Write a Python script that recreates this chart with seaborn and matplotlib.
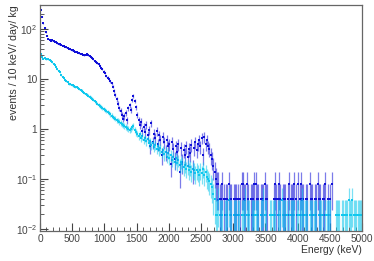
import numpy as np
import pandas as pd
import matplotlib
matplotlib.use("Agg")
import matplotlib.pyplot as plt
import seaborn as sns

# --- data: events / 10 keV / day / kg, 20 keV wide bins starting at 0 keV ---
bin_width = 20.0

# blue spectrum, continuous part (0 - 2760 keV)
blue_rate = [
    240, 175, 130, 105, 85, 72, 64, 61, 58, 59,
    56, 55, 54, 52, 50, 49, 48, 46, 45, 44,
    43, 42, 40, 39, 38, 37, 36.5, 35, 34.5, 33.5,
    33, 32, 31, 30.5, 30, 30.5, 31.5, 30, 28, 27,
    26, 24.5, 23, 22, 20.5, 19.5, 18, 16.5, 15.5, 14,
    13, 11.5, 10.5, 9.8, 9.0, 8.2, 7.0, 5.8, 4.8, 3.9,
    3.2, 2.6, 2.3, 1.9, 1.6, 1.8, 2.1, 1.5, 2.6, 3.0,
    2.4, 3.8, 4.6, 3.6, 2.7, 1.9, 1.5, 1.2, 1.4, 0.9,
    1.1, 0.85, 1.2, 0.75, 0.95, 0.45, 1.3, 0.55, 0.8, 0.65,
    0.9, 0.5, 0.75, 0.6, 0.3, 0.7, 0.55, 0.35, 0.6, 0.45,
    0.5, 0.2, 0.55, 0.4, 0.25, 0.45, 0.35, 0.5, 0.14, 0.42,
    0.22, 0.38, 0.3, 0.45, 0.28, 0.4, 0.33, 0.48, 0.16, 0.42,
    0.55, 0.38, 0.5, 0.6, 0.45, 0.65, 0.3, 0.7, 0.5, 0.6,
    0.45, 0.4, 0.3, 0.25, 0.18, 0.14, 0.1, 0.08,
]
# blue spectrum, sparse tail (2760 - 5000 keV), single-event levels
blue_tail = [
    2, 1, 1, 2, 1, 0, 1, 1, 2, 1, 1, 0, 1, 1, 1, 1, 0, 1, 2, 2,
    1, 1, 2, 1, 0, 1, 1, 1, 2, 2, 1, 1, 0, 1, 1, 1, 2, 1, 1, 0,
    0, 0, 0, 1, 2, 1, 1, 2, 1, 0, 1, 1, 1, 0, 1, 2, 1, 1, 1, 2,
    1, 0, 2, 1, 2, 1, 1, 0, 1, 1, 0, 2, 1, 1, 0, 1, 1, 2, 1, 1,
    0, 1, 1, 2, 0, 1, 0, 1, 2, 0, 0, 0, 0, 0, 0, 0, 0, 0, 0, 0,
    0, 0, 0, 0, 0, 0, 0, 0, 0, 0, 0, 0,
]
blue_unit = 0.04

# cyan spectrum, continuous part (0 - 2720 keV)
cyan_rate = [
    32, 27, 25.5, 26, 25, 25.5, 24.5, 24, 23, 21.5,
    20, 18.5, 17, 15.5, 14.5, 13.5, 12, 11, 10.2, 9.5,
    9, 8.5, 8, 7.8, 7.6, 7.4, 7.2, 7.0, 6.8, 6.5,
    6.3, 6.0, 5.8, 5.5, 5.2, 5.0, 4.8, 4.6, 4.4, 4.2,
    4.0, 3.8, 3.6, 3.4, 3.2, 3.0, 2.85, 2.75, 2.6, 2.5,
    2.4, 2.3, 2.15, 2.05, 1.95, 1.85, 1.75, 1.65, 1.6, 1.5,
    1.45, 1.38, 1.32, 1.25, 1.2, 1.15, 1.1, 1.05, 1.0, 0.95,
    1.0, 1.1, 1.15, 0.95, 0.85, 0.8, 0.72, 0.78, 0.65, 0.72,
    0.6, 0.66, 0.56, 0.62, 0.52, 0.56, 0.47, 0.52, 0.44, 0.48,
    0.4, 0.45, 0.37, 0.41, 0.34, 0.38, 0.31, 0.35, 0.28, 0.33,
    0.26, 0.3, 0.24, 0.28, 0.22, 0.26, 0.21, 0.24, 0.19, 0.22,
    0.2, 0.17, 0.19, 0.16, 0.18, 0.15, 0.17, 0.14, 0.16, 0.15,
    0.13, 0.15, 0.14, 0.12, 0.15, 0.13, 0.16, 0.12, 0.14, 0.11,
    0.1, 0.09, 0.08, 0.07, 0.05, 0.04,
]
cyan_tail = [
    1, 1, 2, 1, 1, 1, 0, 1, 1, 1, 2, 1, 1, 0, 1, 1, 1, 1, 1, 0,
    1, 1, 1, 2, 1, 1, 1, 0, 1, 1, 1, 1, 1, 1, 0, 1, 1, 2, 1, 1,
    0, 0, 1, 1, 1, 1, 1, 0, 1, 1, 1, 2, 1, 1, 1, 1, 0, 1, 1, 1,
    1, 1, 0, 1, 1, 1, 1, 2, 1, 1, 1, 1, 0, 1, 1, 1, 1, 1, 1, 0,
    1, 1, 1, 1, 0, 1, 1, 1, 1, 1, 0, 0, 0, 1, 1, 1, 1, 0, 1, 1,
    1, 1, 1, 2, 1, 1, 2, 1, 1, 1, 1, 1, 1, 1,
]
cyan_unit = 0.019

y_ticks = [1e-2, 1e-1, 1, 10, 100]
y_tick_labels = ["$10^{-2}$", "$10^{-1}$", "1", "10", "$10^{2}$"]
x_ticks = [0, 500, 1000, 1500, 2000, 2500, 3000, 3500, 4000, 4500, 5000]


def build_spectrum(rate, tail, unit, name):
    cont = np.array(rate, dtype=float)
    counts = np.array(tail, dtype=float)
    values = np.concatenate([cont, counts * unit])
    err = np.concatenate([np.sqrt(cont * unit), np.sqrt(counts) * unit])
    energy = bin_width / 2 + bin_width * np.arange(len(values))
    df = pd.DataFrame({"energy": energy, "rate": values, "err": err, "series": name})
    return df[df["rate"] > 0]


blue = build_spectrum(blue_rate, blue_tail, blue_unit, "blue")
cyan = build_spectrum(cyan_rate, cyan_tail, cyan_unit, "cyan")

sns.set_theme(style="white")
plt.rcParams["font.family"] = ["Liberation Sans", "DejaVu Sans"]
plt.rcParams["mathtext.default"] = "regular"

fig = plt.figure(figsize=(3.74, 2.61), dpi=100)
ax = fig.add_axes([0.107, 0.115, 0.861, 0.866])

colors = {"blue": "#1010d8", "cyan": "#10c8ee"}
for df in (blue, cyan):
    c = colors[df["series"].iloc[0]]
    low = np.clip(df["rate"] - df["err"], 1e-4, None)
    high = df["rate"] + df["err"]
    ax.vlines(df["energy"], low, high, color=c, alpha=0.55, linewidth=0.9)
    sns.scatterplot(data=df, x="energy", y="rate", ax=ax, color=c,
                    s=2.5, marker="s", linewidth=0, legend=False)

ax.set_yscale("log")
ax.set_xlim(0, 5000)
ax.set_ylim(0.0091, 300)
ax.set_xticks(x_ticks)
ax.set_xticks(np.arange(0, 5001, 100), minor=True)
ax.set_yticks(y_ticks)
ax.set_yticklabels(y_tick_labels)

ax.tick_params(axis="both", which="both", direction="in", labelsize=7.3,
               colors="#444444", top=False, right=False)
ax.tick_params(axis="both", which="major", length=6, width=0.8, pad=2)
ax.tick_params(axis="both", which="minor", length=3, width=0.6)
ax.tick_params(axis="x", which="both", bottom=True)
ax.tick_params(axis="y", which="both", left=True)

for side in ["left", "bottom", "top", "right"]:
    ax.spines[side].set_color("#666666")
    ax.spines[side].set_linewidth(0.9)

ax.set_xlabel("Energy (keV)", fontsize=7.5, loc="right", labelpad=1, color="#333333")
ax.set_ylabel("events / 10 keV/ day/ kg", fontsize=7.7, loc="top", color="#333333")
ax.yaxis.set_label_coords(-0.065, 1.0)

plt.savefig("out.png", dpi=100)
plt.close()
